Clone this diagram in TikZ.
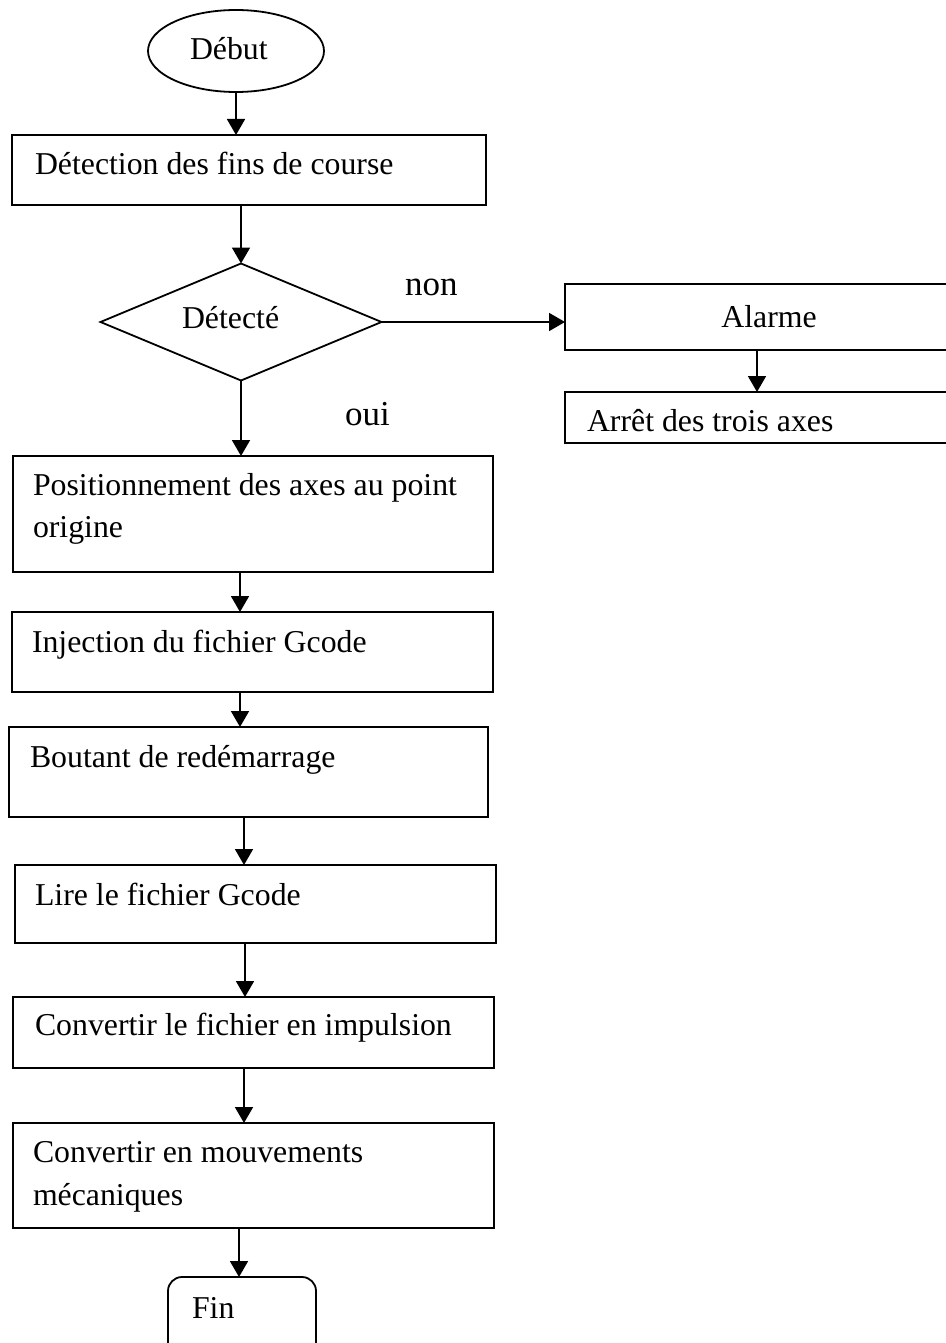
\documentclass[tikz,border=0pt]{standalone}
\usepackage{fontspec}
\setmainfont{Liberation Serif}
\usetikzlibrary{arrows.meta,shapes.geometric}

\begin{document}
\begin{tikzpicture}[x=1pt,y=-1pt,
  every node/.style={inner sep=0pt, outer sep=0pt},
  boxstyle/.style={draw, line width=1.8pt, rectangle, anchor=north west},
  txt/.style={anchor=base west, font=\fontsize{31.8}{38}\selectfont},
  bigtxt/.style={anchor=base west, font=\fontsize{35}{42}\selectfont},
  arr/.style={line width=1.8pt, -{Triangle[width=18pt,length=16pt]}}]

\useasboundingbox (0,0) rectangle (945,1343);

% start terminal
\node[draw, line width=1.8pt, ellipse, minimum width=176pt, minimum height=82pt] (deb) at (236,51) {};
\node[txt] (tdeb) at (190,60) {Début};

% limit switch detection
\node[boxstyle, minimum width=474pt, minimum height=70pt] (b1) at (12,135) {};
\node[txt] (t1) at (35,175) {Détection des fins de course};

% decision
\node[draw, line width=1.8pt, diamond, aspect=2.4, minimum width=281pt, minimum height=117pt] (dia) at (241,322) {};
\node[txt] (tdia) at (182,328) {Détecté};
\node[bigtxt] (tnon) at (405,295) {non};
\node[bigtxt] (toui) at (345,425) {oui};

% alarm branch (boxes run past the right edge)
\node[boxstyle, minimum width=410pt, minimum height=66pt] (alarm) at (565,284) {};
\node[txt, anchor=base] (talarm) at (769,327) {Alarme};
\node[boxstyle, minimum width=410pt, minimum height=51pt] (arret) at (565,392) {};
\node[txt] (tarret) at (587,431) {Arrêt des trois axes};

% main sequence
\node[boxstyle, minimum width=480pt, minimum height=116pt] (b3) at (13,456) {};
\node[txt] (t3a) at (33,495) {Positionnement des axes au point};
\node[txt] (t3b) at (33,537) {origine};

\node[boxstyle, minimum width=481pt, minimum height=80pt] (b4) at (12,612) {};
\node[txt] (t4) at (32,652) {Injection du fichier Gcode};

\node[boxstyle, minimum width=479pt, minimum height=90pt] (b5) at (9,727) {};
\node[txt] (t5) at (30,767) {Boutant de redémarrage};

\node[boxstyle, minimum width=481pt, minimum height=78pt] (b6) at (15,865) {};
\node[txt] (t6) at (35,905) {Lire le fichier Gcode};

\node[boxstyle, minimum width=481pt, minimum height=71pt] (b7) at (13,997) {};
\node[txt] (t7) at (35,1035) {Convertir le fichier en impulsion};

\node[boxstyle, minimum width=481pt, minimum height=105pt] (b8) at (13,1123) {};
\node[txt] (t8a) at (33,1162) {Convertir en mouvements};
\node[txt] (t8b) at (33,1205) {mécaniques};

% end terminal (runs past the bottom edge)
\node[draw, line width=1.8pt, rectangle, rounded corners=14pt, anchor=north west,
      minimum width=148pt, minimum height=88pt] (fin) at (168,1277) {};
\node[txt] (tfin) at (192,1318) {Fin};

% connectors
\draw[arr] (deb.south) -- (b1.north -| deb.south);
\draw[arr] (dia.north |- b1.south) -- (dia.north);
\draw[arr] (dia.east) -- (alarm.west |- dia.east);
\draw[arr] ([xshift=-13pt]alarm.south) -- ([xshift=-13pt]arret.north);
\draw[arr] (dia.south) -- (b3.north -| dia.south);
\draw[arr] ([xshift=-13pt]b3.south) -- ([xshift=-12.5pt]b4.north);
\draw[arr] ([xshift=-12.5pt]b4.south) -- ([xshift=-8.5pt]b5.north);
\draw[arr] ([xshift=-4.5pt]b5.south) -- ([xshift=-11.5pt]b6.north);
\draw[arr] ([xshift=-10.5pt]b6.south) -- ([xshift=-8.5pt]b7.north);
\draw[arr] ([xshift=-9.5pt]b7.south) -- ([xshift=-9.5pt]b8.north);
\draw[arr] ([xshift=-14.5pt]b8.south) -- ([xshift=-3pt]fin.north);
\end{tikzpicture}
\end{document}
